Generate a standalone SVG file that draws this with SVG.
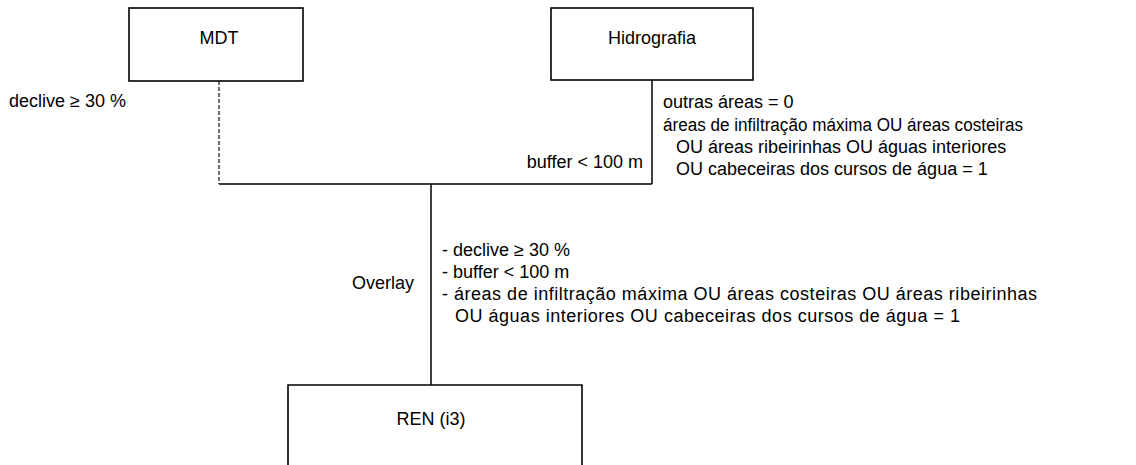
<svg xmlns="http://www.w3.org/2000/svg" width="1136" height="465" viewBox="0 0 1136 465">
<style>
.box{fill:#fff;stroke:#000;stroke-width:1.6}
.ln{fill:none;stroke:#000;stroke-width:1.5}
.dash{fill:none;stroke:#222;stroke-width:1.3;stroke-dasharray:4 2}
text{font-family:"Liberation Sans",Arial,sans-serif;font-size:18px;fill:#000}
.c{text-anchor:middle}
.r{text-anchor:end}
</style>
<rect width="1136" height="465" fill="#fff"/>
<g id="connectors">
<line class="dash" x1="219" y1="81" x2="219" y2="184"/>
<line class="ln" x1="652" y1="80" x2="652" y2="184"/>
<line class="ln" x1="219" y1="184" x2="652" y2="184"/>
<line class="ln" x1="431" y1="184" x2="431" y2="385"/>
</g>
<g id="mdt">
<rect class="box" x="129" y="8" width="174" height="73"/>
<text class="c" x="219" y="44">MDT</text>
</g>
<g id="hidrografia">
<rect class="box" x="551" y="8" width="202" height="72"/>
<text class="c" x="652" y="44">Hidrografia</text>
</g>
<g id="ren">
<path class="box" d="M288,470 V385 H582 V470"/>
<text class="c" x="431" y="425">REN (i3)</text>
</g>
<g id="labels">
<text x="9" y="107">declive ≥ 30 %</text>
<text class="r" x="643" y="168">buffer &lt; 100 m</text>
<text x="663" y="108">outras áreas = 0</text>
<text x="663" y="131" textLength="360" lengthAdjust="spacingAndGlyphs">áreas de infiltração máxima OU áreas costeiras</text>
<text x="676" y="153">OU áreas ribeirinhas OU águas interiores</text>
<text x="676" y="175">OU cabeceiras dos cursos de água = 1</text>
<text x="442" y="256">- declive ≥ 30 %</text>
<text x="442" y="278">- buffer &lt; 100 m</text>
<text x="442" y="300" textLength="595">- áreas de infiltração máxima OU áreas costeiras OU áreas ribeirinhas</text>
<text x="455" y="322" textLength="505">OU águas interiores OU cabeceiras dos cursos de água = 1</text>
<text x="352" y="289">Overlay</text>
</g>
</svg>
